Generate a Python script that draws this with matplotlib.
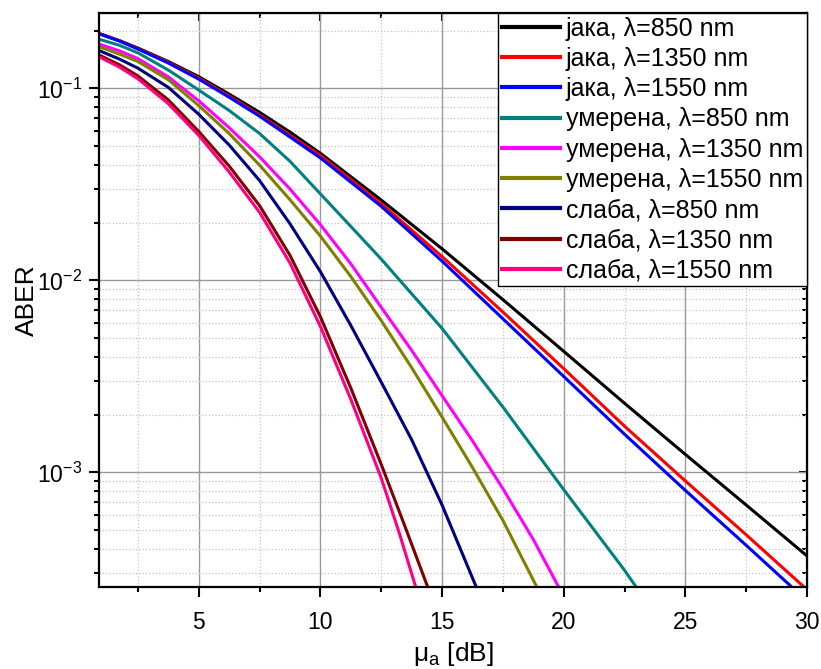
import matplotlib
matplotlib.use("Agg")
import matplotlib.pyplot as plt
from matplotlib.ticker import LogLocator, MultipleLocator, NullFormatter

plt.rcParams['font.family'] = ['Liberation Sans', 'DejaVu Sans']
plt.rcParams['mathtext.fontset'] = 'custom'
plt.rcParams['mathtext.rm'] = 'Liberation Sans'
plt.rcParams['mathtext.it'] = 'Liberation Sans'

# data (ABER vs mu_a in dB)
x_jaka = [0.9, 1.75, 2.5, 3.75, 5, 6.25, 7.5, 8.75, 10, 12.5, 15, 17.5, 20, 22.5, 25, 27.5, 30]
jaka_850 = [0.1932, 0.1770, 0.1622, 0.1380, 0.1151, 0.0933, 0.0750, 0.0592, 0.0459, 0.0262, 0.0146,
            0.00794, 0.00427, 0.00229, 0.00124, 0.000676, 0.000367]
jaka_1350 = [0.1932, 0.1770, 0.1614, 0.1368, 0.1132, 0.0912, 0.0728, 0.0570, 0.0447, 0.0251, 0.0133,
             0.00684, 0.00347, 0.00174, 0.000902, 0.000473, 0.000245]
jaka_1550 = [0.1923, 0.1762, 0.1603, 0.1355, 0.1117, 0.0899, 0.0716, 0.0558, 0.0434, 0.0243, 0.0126,
             0.00631, 0.00316, 0.00158, 0.000805, 0.000417, 0.000214]

x_umer_850 = [0.9, 1.75, 2.5, 3.75, 5, 6.25, 7.5, 8.75, 10, 11.25, 12.5, 15, 17.5, 20, 22.5, 23.1]
umer_850 = [0.1803, 0.1675, 0.1531, 0.1245, 0.0980, 0.0767, 0.0582, 0.0417, 0.0282, 0.0191, 0.0129,
            0.00562, 0.00219, 0.000813, 0.000309, 0.000240]
x_umer_1350 = [0.9, 1.75, 2.5, 3.75, 5, 6.25, 7.5, 8.75, 10, 11.25, 12.5, 13.75, 15, 16.25, 17.5,
               18.75, 19.85]
umer_1350 = [0.1702, 0.1567, 0.1429, 0.1148, 0.0861, 0.0624, 0.0440, 0.0299, 0.0195, 0.0122, 0.00724,
             0.00432, 0.00251, 0.00146, 0.000822, 0.000447, 0.000245]
x_umer_1550 = [0.9, 1.75, 2.5, 3.75, 5, 6.25, 7.5, 8.75, 10, 11.25, 12.5, 13.75, 15, 16.25, 17.5, 18.95]
umer_1550 = [0.1648, 0.1507, 0.1380, 0.1109, 0.0813, 0.0582, 0.0398, 0.0263, 0.0170, 0.01047, 0.00617,
             0.00351, 0.00194, 0.00106, 0.000562, 0.000245]

x_slaba_850 = [0.9, 1.75, 2.5, 3.75, 5, 6.25, 7.5, 8.75, 10, 11.25, 12.5, 13.75, 15, 16.45]
slaba_850 = [0.1574, 0.1419, 0.1274, 0.1012, 0.0733, 0.0507, 0.0331, 0.0197, 0.0111, 0.00582, 0.00295,
             0.00148, 0.000676, 0.000245]
x_slaba_1350 = [0.9, 1.75, 2.5, 3.75, 5, 6.25, 7.5, 8.75, 10, 11.25, 12.5, 13.5, 14.45]
slaba_1350 = [0.1493, 0.1324, 0.1161, 0.0871, 0.0596, 0.0394, 0.0245, 0.0135, 0.00646, 0.00275,
              0.00110, 0.000513, 0.000245]
x_slaba_1550 = [0.9, 1.75, 2.5, 3.75, 5, 6.25, 7.5, 8.75, 10, 11.25, 12.5, 13.25, 13.95]
slaba_1550 = [0.1462, 0.1288, 0.1122, 0.0832, 0.0569, 0.0367, 0.0226, 0.0123, 0.00575, 0.00240,
              0.000933, 0.000479, 0.000245]

labels = ['јака, λ=850 nm', 'јака, λ=1350 nm', 'јака, λ=1550 nm',
          'умерена, λ=850 nm', 'умерена, λ=1350 nm', 'умерена, λ=1550 nm',
          'слаба, λ=850 nm', 'слаба, λ=1350 nm', 'слаба, λ=1550 nm']
colors = ['#000000', '#ff0000', '#0000ff', '#008080', '#ff00ff', '#808000',
          '#000080', '#800000', '#ff0080']

xs = [x_jaka, x_jaka, x_jaka, x_umer_850, x_umer_1350, x_umer_1550,
      x_slaba_850, x_slaba_1350, x_slaba_1550]
ys = [jaka_850, jaka_1350, jaka_1550, umer_850, umer_1350, umer_1550,
      slaba_850, slaba_1350, slaba_1550]

fig = plt.figure(figsize=(8.21, 6.69), dpi=100)
ax = fig.add_axes([0.1206, 0.1226, 0.8624, 0.858])

for x, y, c, lab in zip(xs, ys, colors, labels):
    ax.plot(x, y, color=c, linewidth=2.2, label=lab)

ax.set_yscale('log')
ax.set_xlim(0.9, 30)
ax.set_ylim(2.53e-4, 0.247)

ax.xaxis.set_major_locator(MultipleLocator(5))
ax.xaxis.set_minor_locator(MultipleLocator(2.5))
ax.yaxis.set_major_locator(LogLocator(base=10))
ax.yaxis.set_minor_locator(LogLocator(base=10, subs=range(2, 10)))
ax.yaxis.set_minor_formatter(NullFormatter())

# grid like origin
ax.grid(which='major', color='#999999', linewidth=1.0)
ax.grid(which='minor', color='#c4c4c4', linewidth=0.9, linestyle=':')

ax.tick_params(which='both', labelsize=16.5, width=1.5)
ax.tick_params(which='major', length=7.5)
ax.tick_params(which='minor', length=3.5)
ax.tick_params(axis='x', pad=10)
ax.tick_params(axis='y', pad=5)
for s in ax.spines.values():
    s.set_linewidth(1.6)

# mirror ticks on top / right, pointing inwards
ax2 = ax.secondary_xaxis('top')
ax2.xaxis.set_major_locator(MultipleLocator(5))
ax2.xaxis.set_minor_locator(MultipleLocator(2.5))
ax2.tick_params(which='both', direction='in', labeltop=False, width=1.5)
ax2.tick_params(which='major', length=6)
ax2.tick_params(which='minor', length=3.5)
ax3 = ax.secondary_yaxis('right')
ax3.set_yscale('log')
ax3.yaxis.set_major_locator(LogLocator(base=10))
ax3.yaxis.set_minor_locator(LogLocator(base=10, subs=range(2, 10)))
ax3.tick_params(which='both', direction='in', labelright=False, width=1.5)
ax3.tick_params(which='major', length=6)
ax3.tick_params(which='minor', length=3.5)

ax.set_xlabel(r'$\mathregular{\mu_a}$ [dB]', fontsize=19, labelpad=4)
ax.set_ylabel('ABER', fontsize=19, labelpad=-2)

leg = ax.legend(loc='upper right', fontsize=18, borderaxespad=0, fancybox=False,
                framealpha=1, edgecolor='black', handlelength=2.3,
                handletextpad=0.25, labelspacing=0.25, borderpad=0.15)
leg.get_frame().set_linewidth(1.0)
for line in leg.get_lines():
    line.set_linewidth(3)

plt.savefig('out.png', dpi=100)
